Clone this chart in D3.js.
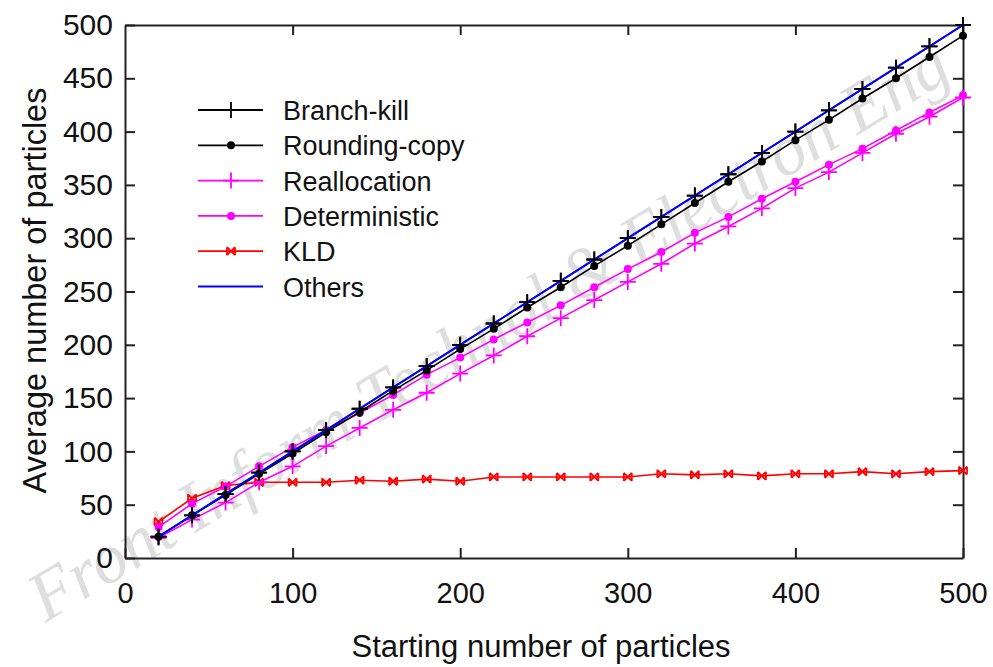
<!DOCTYPE html>
<html>
<head>
<meta charset="utf-8">
<script src="https://cdn.jsdelivr.net/npm/d3@7/dist/d3.min.js"></script>
<style>
  html, body { margin: 0; padding: 0; background: #fff; }
  svg { display: block; }
</style>
</head>
<body>
<svg id="chart" width="993" height="667"></svg>
<script>
// ---- data ----
const startCounts = [20,40,60,80,100,120,140,160,180,200,220,240,260,280,300,320,340,360,380,400,420,440,460,480,500];
const branchKill   = [20,40,60,80,100,120,140,160,180,200,220,240,260,280,300,320,340,360,380,400,420,440,460,480,500];
const roundingCopy = [20,40,59,79,98,118,137,157,176,196,215,235,254,274,293,313,333,353,372,392,411,431,450,470,490];
const reallocation = [19,36,52,71,86,105,122,139,155,173,190,208,225,242,259,276,295,311,328,347,362,380,398,414,432];
const deterministic= [29,51,67,86,104,120,136,153,172,188,205,221,237,254,271,287,305,320,337,353,369,384,401,418,434];
const kld          = [34,56,68,71,71,71,73,72,74,72,76,76,76,76,76,79,78,79,77,79,79,81,79,81,82];
const others       = [20,40,60,80,100,120,140,160,180,200,220,240,260,280,300,320,340,360,380,400,420,440,460,480,500];
const xTicks = [0,100,200,300,400,500];
const yTicks = [0,50,100,150,200,250,300,350,400,450,500];
const xLabel = "Starting number of particles";
const yLabel = "Average number of particles";
const watermark = "Front Inform Technol & Electron Eng";

const seriesList = [
  {name: "Branch-kill",   values: branchKill,    color: "#000000", marker: "plus"},
  {name: "Rounding-copy", values: roundingCopy,  color: "#000000", marker: "dot"},
  {name: "Reallocation",  values: reallocation,  color: "#ff00ff", marker: "plus"},
  {name: "Deterministic", values: deterministic, color: "#ff00ff", marker: "dot"},
  {name: "KLD",           values: kld,           color: "#ff0000", marker: "star"},
  {name: "Others",        values: others,        color: "#0000ff", marker: "none"}
];

// ---- layout ----
const svg = d3.select("#chart");
const L = 125, R = 963, T = 25, B = 558;
const x = d3.scaleLinear().domain([0, 500]).range([L, R]);
const y = d3.scaleLinear().domain([0, 500]).range([B, T]);
const font = "'Liberation Sans', Arial, sans-serif";

// watermark
svg.append("text")
  .attr("transform", "translate(500,350) rotate(-31)")
  .attr("text-anchor", "middle")
  .attr("font-family", "'Liberation Serif', 'Times New Roman', serif")
  .attr("font-style", "italic")
  .attr("font-size", 70)
  .attr("fill", "#dedede")
  .text(watermark);

// axes (ticks pointing inward)
const axisColor = "#222";
function styleAxis(g) {
  g.selectAll("path.domain").attr("stroke", axisColor).attr("stroke-width", 2);
  g.selectAll(".tick line").attr("stroke", axisColor).attr("stroke-width", 2);
}
const gx = svg.append("g").attr("transform", `translate(0,${B})`)
  .call(d3.axisBottom(x).tickValues(xTicks).tickSize(-10).tickSizeOuter(0).tickPadding(24).tickFormat(d3.format("d")));
styleAxis(gx);
gx.selectAll(".tick text").attr("font-family", font).attr("font-size", 29).attr("fill", "#111");

const gy = svg.append("g").attr("transform", `translate(${L},0)`)
  .call(d3.axisLeft(y).tickValues(yTicks).tickSize(-10).tickSizeOuter(0).tickPadding(12).tickFormat(d3.format("d")));
styleAxis(gy);
gy.selectAll(".tick text").attr("font-family", font).attr("font-size", 30).attr("fill", "#111");

const gt = svg.append("g").attr("transform", `translate(0,${T})`)
  .call(d3.axisTop(x).tickValues(xTicks.slice(1, -1)).tickSize(-10).tickSizeOuter(0).tickFormat(""));
styleAxis(gt);
const gr = svg.append("g").attr("transform", `translate(${R},0)`)
  .call(d3.axisRight(y).tickValues(yTicks.slice(1, -1)).tickSize(-10).tickSizeOuter(0).tickFormat(""));
styleAxis(gr);

// axis titles
svg.append("text")
  .attr("x", (L + R) / 2 - 3).attr("y", 657)
  .attr("text-anchor", "middle")
  .attr("font-family", font).attr("font-size", 31).attr("fill", "#111")
  .text(xLabel);
svg.append("text")
  .attr("transform", `translate(46,${(T + B) / 2 - 1}) rotate(-90)`)
  .attr("text-anchor", "middle")
  .attr("font-family", font).attr("font-size", 32.5).attr("fill", "#111")
  .text(yLabel);

// markers
function drawMarker(g, cx, cy, type, color) {
  if (type === "plus") {
    g.append("path").attr("d", `M${cx-8},${cy}H${cx+8}M${cx},${cy-8}V${cy+8}`)
      .attr("stroke", color).attr("stroke-width", 1.8).attr("fill", "none");
  } else if (type === "dot") {
    g.append("circle").attr("cx", cx).attr("cy", cy).attr("r", 4).attr("fill", color);
  } else if (type === "star") {
    g.append("path").attr("d", `M${cx-4},${cy-4}L${cx+4},${cy+4}M${cx-4},${cy+4}L${cx+4},${cy-4}M${cx-4},${cy-4}V${cy+4}M${cx+4},${cy-4}V${cy+4}`)
      .attr("stroke", color).attr("stroke-width", 1.8).attr("fill", "none");
  }
}

const line = d3.line().x(d => x(d[0])).y(d => y(d[1]));
const plot = svg.append("g");
const order = [4, 2, 3, 1, 0, 5];
order.forEach(i => {
  const s = seriesList[i];
  const pts = startCounts.map((c, j) => [c, s.values[j]]);
  plot.append("path").datum(pts).attr("d", line)
    .attr("fill", "none").attr("stroke", s.color).attr("stroke-width", i === 5 ? 2 : 1.6);
  if (i === 5) return;
  const mg = plot.append("g");
  pts.forEach(p => drawMarker(mg, x(p[0]), y(p[1]), s.marker, s.color));
});
// branch-kill markers on top of the blue line
{
  const s = seriesList[0];
  const mg = plot.append("g");
  startCounts.forEach((c, j) => drawMarker(mg, x(c), y(s.values[j]), s.marker, s.color));
}

// legend
const leg = svg.append("g");
seriesList.forEach((s, i) => {
  const cy = 110 + i * 35.3;
  leg.append("line").attr("x1", 198).attr("x2", 263).attr("y1", cy).attr("y2", cy)
    .attr("stroke", s.color).attr("stroke-width", 1.8);
  drawMarker(leg, 231, cy, s.marker, s.color);
  leg.append("text").attr("x", 283).attr("y", cy + 10)
    .attr("font-family", font).attr("font-size", 27).attr("fill", "#111")
    .text(s.name);
});
</script>
</body>
</html>
